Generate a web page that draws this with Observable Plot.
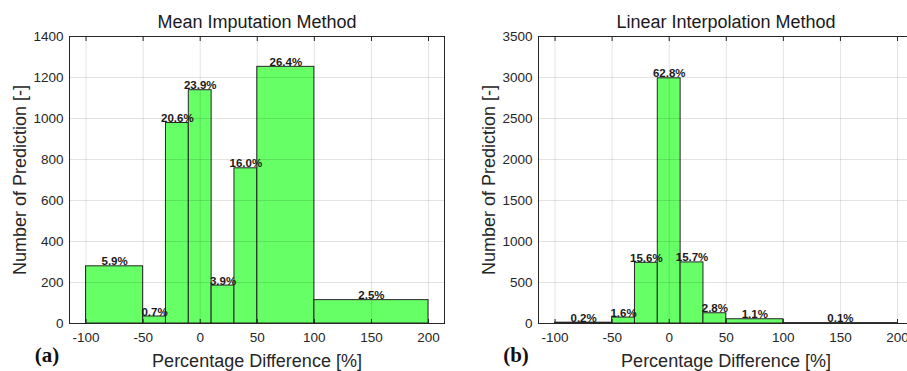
<!DOCTYPE html>
<html>
<head>
<meta charset="utf-8">
<script src="https://cdn.jsdelivr.net/npm/d3@7"></script>
<script src="https://cdn.jsdelivr.net/npm/@observablehq/plot@0.6"></script>
<style>
  html, body { margin: 0; padding: 0; background: #fff; }
  #wrap { position: relative; width: 907px; height: 371px; overflow: hidden; background: #fff; }
</style>
</head>
<body>
<div id="wrap"></div>
<script>
// ---- data ----
const binStart = [-100, -50, -30, -10, 10, 30, 50, 100];
const binEnd   = [-50, -30, -10, 10, 30, 50, 100, 200];
const meanCounts = [279, 34, 978, 1138, 185, 757, 1252, 114];
const meanLabels = ["5.9%", "0.7%", "20.6%", "23.9%", "3.9%", "16.0%", "26.4%", "2.5%"];
const linCounts = [10, 72, 740, 2990, 745, 125, 52, 5];
const linLabels = ["0.2%", "1.6%", "15.6%", "62.8%", "15.7%", "2.8%", "1.1%", "0.1%"];
const xTicks = [-100, -50, 0, 50, 100, 150, 200];
const meanYTicks = [0, 200, 400, 600, 800, 1000, 1200, 1400];
const linYTicks = [0, 500, 1000, 1500, 2000, 2500, 3000, 3500];
const titles = ["Mean Imputation Method", "Linear Interpolation Method"];
const panelTags = ["(a)", "(b)"];
const xLabel = "Percentage Difference [%]";
const yLabel = "Number of Prediction [-]";

const FONT = "'Liberation Sans', Arial, Helvetica, sans-serif";

function panel({counts, labels, yTicks, title, tag, width, marginLeft, marginRight, left}) {
  const rows = counts.map((c, i) => ({x1: binStart[i], x2: binEnd[i], xm: (binStart[i] + binEnd[i]) / 2, y: c, label: labels[i]}));
  const yMax = yTicks[yTicks.length - 1];
  const chart = Plot.plot({
    width, height: 371,
    marginLeft, marginRight, marginTop: 36, marginBottom: 48,
    style: {fontFamily: FONT, background: "transparent", color: "#262626", overflow: "visible"},
    x: {domain: [-114.5, 214], ticks: xTicks},
    y: {domain: [0, yMax], ticks: yTicks},
    marks: [
      Plot.rectY(rows, {x1: "x1", x2: "x2", y: "y", fill: "#66ff66", stroke: "#262626", strokeWidth: 1}),
      Plot.gridX(xTicks, {stroke: "#000", strokeOpacity: 0.11}),
      Plot.gridY(yTicks, {stroke: "#000", strokeOpacity: 0.11}),
      Plot.axisX(xTicks, {anchor: "bottom", tickSize: 0, tickPadding: 9, fontSize: 13.5, label: null, fill: "#262626", tickFormat: d => String(d)}),
      Plot.axisY(yTicks, {anchor: "left", tickSize: 0, tickPadding: 6, fontSize: 13.5, label: null, fill: "#262626", tickFormat: d => String(d)}),
      Plot.axisX(xTicks, {anchor: "bottom", tickSize: -4, text: null, label: null, stroke: "#262626"}),
      Plot.axisX(xTicks, {anchor: "top", tickSize: -4, text: null, label: null, stroke: "#262626"}),
      Plot.text(rows, {x: "xm", y: "y", text: "label", lineAnchor: "bottom", dy: -1, fontSize: 11.5, fontWeight: "bold", fill: "#1a1a1a"}),
      Plot.frame({stroke: "#262626", strokeWidth: 1}),
      Plot.text([title], {frameAnchor: "top", lineAnchor: "bottom", dy: -9, text: d => d, fontSize: 18, fill: "#1a1a1a"}),
      Plot.text([xLabel], {frameAnchor: "bottom", lineAnchor: "bottom", dy: 43, text: d => d, fontSize: 18, fill: "#262626"}),
      Plot.text([yLabel], {frameAnchor: "left", textAnchor: "middle", rotate: -90, lineAnchor: "middle", dx: -49, text: d => d, fontSize: 18, fill: "#262626"}),
      Plot.text([tag], {frameAnchor: "bottom-left", textAnchor: "middle", lineAnchor: "bottom", dx: -22.5, dy: 38, text: d => d, fontSize: 21, fontWeight: "bold", fontFamily: "'Liberation Serif', 'Times New Roman', serif", fill: "#111"})
    ]
  });
  chart.style.position = "absolute";
  chart.style.left = left + "px";
  chart.style.top = "0px";
  return chart;
}

const wrap = document.getElementById("wrap");
wrap.appendChild(panel({counts: meanCounts, labels: meanLabels, yTicks: meanYTicks, title: titles[0], tag: panelTags[0], width: 453, marginLeft: 69, marginRight: 9, left: 0}));
wrap.appendChild(panel({counts: linCounts, labels: linLabels, yTicks: linYTicks, title: titles[1], tag: panelTags[1], width: 460, marginLeft: 85, marginRight: 0, left: 453}));
</script>
</body>
</html>
